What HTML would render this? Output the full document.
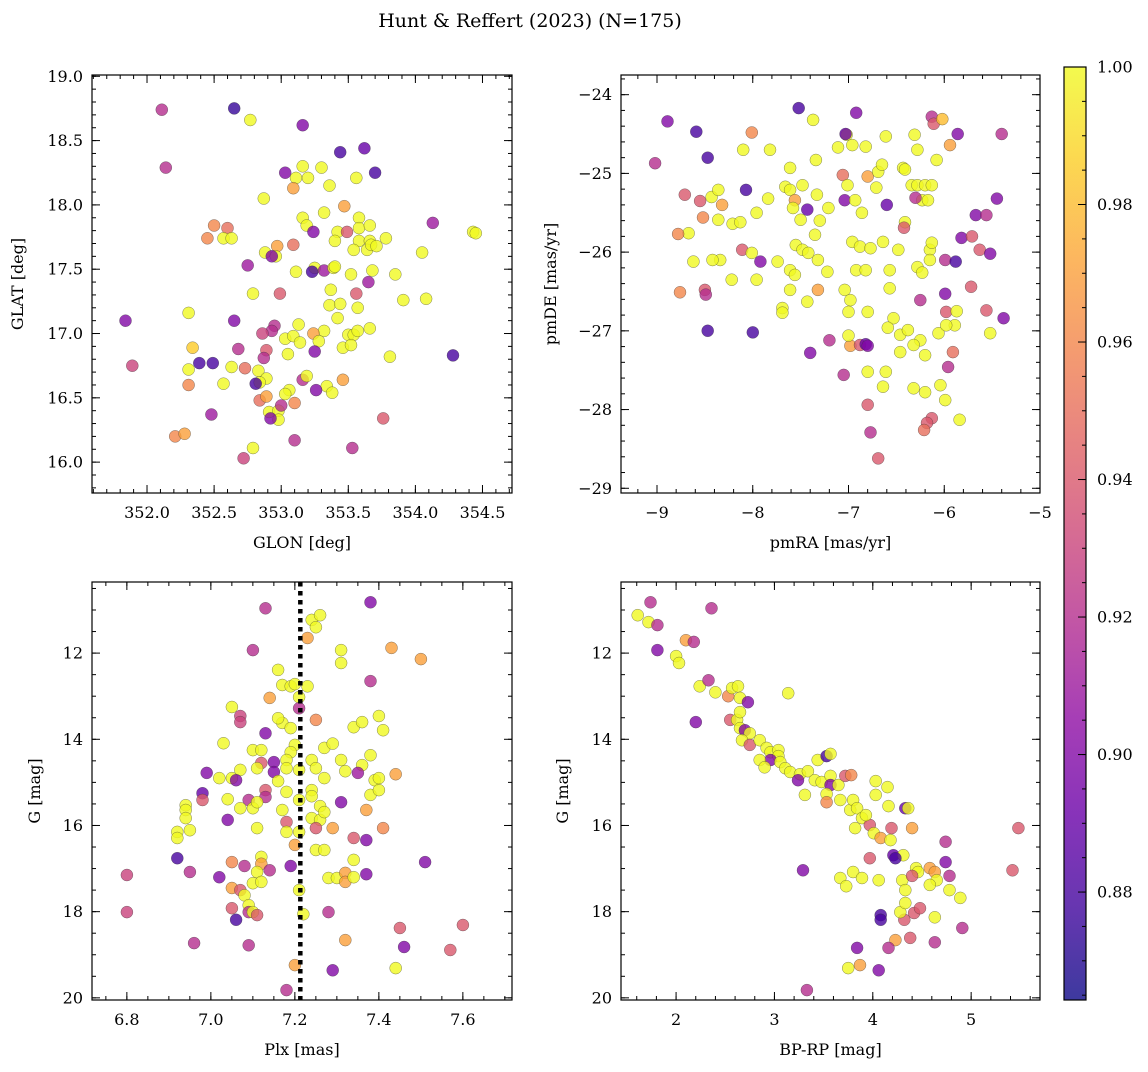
<!DOCTYPE html>
<html><head><meta charset="utf-8"><style>
html,body{margin:0;padding:0;background:#fff}
svg text{font-family:"DejaVu Serif","Liberation Serif",serif;fill:#000}
</style></head><body>
<svg id="fig" width="1148" height="1067" xmlns="http://www.w3.org/2000/svg">
<text x="530" y="27" font-size="19" text-anchor="middle">Hunt &amp; Reffert (2023) (N=175)</text>
</svg>
<script>
// ---- Panel 1: GLON / GLAT ----
const glonX=[352.11,352.14,351.84,351.89,352.65,352.77,353.16,353.44,353.62,353.70,353.03,353.16,353.30,353.11,353.20,353.56,353.36,353.09,352.87,353.47,353.16,353.19,353.32,353.58,353.58,353.66,352.50,352.60,352.45,352.57,352.63,352.97,353.09,353.24,353.42,353.49,353.40,353.58,353.66,353.78,353.54,353.64,353.67,353.71,354.13,354.43,354.45,354.05,352.88,352.96,352.75,352.93,353.25,353.23,353.11,353.32,353.39,353.40,353.52,353.65,353.68,353.85,353.91,354.08,353.37,353.56,352.99,352.79,352.31,352.65,352.95,352.93,353.13,353.36,353.44,353.57,353.66,353.42,353.32,353.24,353.03,353.09,353.14,353.28,353.50,353.54,353.57,352.86,352.34,352.39,352.49,352.68,352.89,352.87,353.05,353.25,353.46,353.52,353.81,354.28,352.31,352.63,352.73,352.83,352.89,352.84,352.81,353.16,353.19,353.34,353.38,353.26,353.06,353.03,353.46,352.31,352.57,352.84,352.89,353.10,352.91,352.98,353.00,352.98,352.92,353.10,352.48,352.21,352.28,352.72,352.79,353.53,353.76];
const glatY=[18.74,18.29,17.10,16.75,18.75,18.66,18.62,18.41,18.44,18.25,18.25,18.30,18.29,18.21,18.21,18.21,18.15,18.13,18.05,17.99,17.90,17.84,17.94,17.90,17.82,17.84,17.84,17.82,17.74,17.74,17.74,17.68,17.69,17.79,17.79,17.79,17.72,17.72,17.72,17.74,17.65,17.65,17.69,17.68,17.86,17.79,17.78,17.63,17.63,17.60,17.53,17.60,17.51,17.48,17.48,17.49,17.51,17.52,17.46,17.40,17.49,17.46,17.26,17.27,17.34,17.31,17.31,17.31,17.16,17.10,17.06,17.02,17.07,17.22,17.23,17.20,17.04,17.12,17.02,17.00,16.96,16.98,16.93,16.94,16.99,16.99,17.02,17.00,16.89,16.77,16.77,16.88,16.87,16.81,16.84,16.86,16.89,16.91,16.82,16.83,16.72,16.74,16.73,16.71,16.65,16.62,16.61,16.64,16.67,16.59,16.54,16.56,16.56,16.53,16.64,16.60,16.61,16.48,16.51,16.46,16.39,16.40,16.44,16.33,16.34,16.17,16.37,16.20,16.22,16.03,16.11,16.11,16.34];
const p1C=[.92,.92,.90,.93,.875,1,.90,.88,.89,.88,.90,1,1,1,1,1,1,.97,1,.97,1,1,1,1,1,1,.96,.95,.96,1,1,.97,.95,.90,1,.94,1,1,1,1,1,1,1,1,.91,1,1,1,1,1,.91,.90,1,.88,1,.91,1,1,1,.91,1,1,1,1,1,.94,.94,1,1,.90,.92,.92,1,1,1,1,1,1,1,.97,1,1,1,1,1,1,1,.93,.985,.88,.88,.92,.94,.92,1,.90,1,1,1,.88,1,1,.95,1,1,1,.88,.92,1,1,1,.90,1,1,.97,.96,1,.95,.97,.96,1,1,.92,1,.90,.92,.91,.96,.97,.93,1,.92,.94];
// ---- Panel 2: pmRA / pmDE ----
const pmraX=[-8.89,-9.02,-8.59,-8.01,-7.52,-7.37,-6.92,-7.02,-7.03,-6.31,-6.13,-6.11,-5.86,-5.40,-8.47,-8.10,-7.82,-7.61,-7.34,-7.11,-6.96,-6.82,-6.61,-6.43,-6.28,-6.08,-5.94,-6.02,-8.71,-8.55,-8.43,-8.36,-8.07,-8.32,-7.84,-7.66,-7.61,-7.56,-7.48,-7.33,-7.21,-7.06,-7.04,-7.01,-6.93,-6.80,-6.71,-6.69,-6.65,-6.60,-6.41,-6.34,-6.28,-6.20,-6.13,-6.23,-6.17,-6.30,-5.45,-8.52,-8.36,-8.21,-8.13,-7.96,-7.58,-7.50,-7.30,-7.43,-6.86,-6.41,-5.67,-5.56,-8.67,-8.78,-8.11,-8.01,-7.92,-7.55,-7.48,-7.42,-7.35,-6.96,-6.88,-6.77,-6.64,-6.48,-6.42,-6.15,-6.13,-6.15,-5.99,-5.88,-5.82,-5.71,-5.63,-5.52,-8.34,-8.42,-7.74,-7.61,-7.56,-7.32,-7.22,-6.92,-6.82,-6.57,-6.28,-6.23,-8.62,-8.76,-8.50,-8.49,-8.22,-7.96,-7.61,-7.32,-7.04,-6.98,-6.57,-6.25,-5.99,-5.72,-7.69,-7.69,-7.43,-7.00,-6.80,-6.53,-5.98,-5.89,-5.87,-5.56,-5.38,-8.47,-8.00,-7.20,-7.40,-6.98,-6.88,-6.82,-7.00,-6.80,-6.59,-6.46,-6.38,-6.25,-6.06,-5.98,-6.20,-6.46,-6.32,-6.61,-5.91,-5.96,-5.52,-6.80,-7.05,-6.64,-6.32,-6.20,-6.04,-5.99,-6.80,-6.13,-6.18,-6.21,-5.84,-6.77,-6.69];
const pmdeY=[-24.34,-24.87,-24.47,-24.48,-24.17,-24.32,-24.23,-24.51,-24.50,-24.51,-24.28,-24.37,-24.50,-24.50,-24.80,-24.70,-24.70,-24.93,-24.83,-24.67,-24.64,-24.66,-24.53,-24.93,-24.70,-24.83,-24.64,-24.31,-25.27,-25.35,-25.30,-25.21,-25.21,-25.40,-25.32,-25.17,-25.21,-25.34,-25.15,-25.27,-25.44,-25.02,-25.34,-25.15,-25.34,-25.04,-25.18,-24.98,-24.89,-25.40,-24.95,-25.15,-25.15,-25.15,-25.15,-25.34,-25.34,-25.31,-25.32,-25.56,-25.59,-25.64,-25.62,-25.50,-25.44,-25.59,-25.60,-25.46,-25.50,-25.62,-25.53,-25.53,-25.76,-25.77,-25.97,-26.01,-26.12,-25.91,-25.97,-26.01,-25.78,-25.87,-25.93,-25.95,-25.87,-25.97,-25.69,-25.97,-25.88,-26.10,-26.10,-26.12,-25.82,-25.80,-25.97,-26.02,-26.10,-26.10,-26.12,-26.23,-26.29,-26.10,-26.25,-26.23,-26.23,-26.23,-26.19,-26.26,-26.12,-26.51,-26.48,-26.54,-26.35,-26.35,-26.48,-26.48,-26.48,-26.61,-26.46,-26.61,-26.53,-26.44,-26.71,-26.77,-26.63,-26.76,-26.76,-26.84,-26.76,-26.93,-26.75,-26.74,-26.84,-27.00,-27.02,-27.12,-27.28,-27.19,-27.18,-27.17,-27.06,-27.19,-26.96,-27.05,-26.99,-27.12,-27.03,-26.93,-27.31,-27.27,-27.18,-27.52,-27.27,-27.46,-27.03,-27.52,-27.56,-27.71,-27.73,-27.78,-27.69,-27.88,-27.94,-28.11,-28.17,-28.26,-28.13,-28.29,-28.62];
const p2C=[.90,.92,.88,.96,.88,1,.90,1,.89,1,.92,.94,.90,.92,.88,1,1,1,1,1,1,1,1,1,1,1,.97,.98,.94,.94,1,1,.88,.97,1,1,1,.97,1,1,1,.95,.90,1,1,.97,1,1,1,.89,1,1,1,1,1,1,1,.92,.90,.96,1,1,1,1,1,1,1,.89,1,1,.90,.92,1,.96,.94,1,.90,1,1,1,1,1,1,1,1,1,.94,1,1,1,.92,.88,.90,.94,.94,.90,1,1,1,1,1,1,1,1,1,1,1,1,1,.96,.94,.92,1,1,1,.97,1,1,1,.92,.90,.94,1,1,1,1,1,1,.94,1,1,.94,.90,.88,.88,.92,.90,.97,.94,.89,1,.90,1,1,1,1,1,1,1,1,1,1,.95,.92,1,1,.92,1,1,1,1,1,.94,.94,.94,.95,1,.92,.94];
// ---- Panel 3: Plx / G ----
const plxX=[7.13,7.38,7.24,7.26,7.25,7.10,7.23,7.31,7.31,7.43,7.50,7.38,7.16,7.17,7.19,7.20,7.23,7.14,7.21,7.05,7.07,7.07,7.17,7.19,7.16,7.21,7.25,7.34,7.36,7.40,7.41,7.13,7.03,7.10,7.12,7.20,7.19,7.27,7.29,7.24,7.18,7.12,7.15,7.15,7.18,7.21,7.25,7.31,7.32,7.36,7.35,7.38,7.07,7.11,7.05,7.02,7.06,7.13,7.16,7.27,7.24,7.24,7.18,7.21,7.26,7.39,7.40,7.44,7.38,7.40,7.31,6.99,6.98,6.98,7.09,7.13,7.04,7.07,7.10,7.11,7.17,7.24,7.26,7.27,7.37,6.94,6.94,6.94,6.95,6.92,6.92,7.04,7.11,7.18,7.18,7.21,7.25,7.29,7.41,7.34,7.37,7.20,7.25,7.27,7.34,7.12,7.12,7.05,7.08,6.92,6.95,6.80,7.14,7.11,7.19,7.51,7.02,7.05,7.07,7.10,7.12,7.21,7.28,7.30,7.32,7.32,7.34,7.37,7.08,7.09,7.05,7.09,7.10,7.11,7.06,6.80,7.22,7.28,7.32,7.45,7.46,7.60,7.57,6.96,7.09,7.20,7.29,7.44,7.18];
const gPlxY=[10.96,10.82,11.23,11.12,11.40,11.93,11.65,11.93,12.23,11.88,12.14,12.65,12.39,12.74,12.77,12.72,12.77,13.04,13.02,13.25,13.46,13.60,13.62,13.74,13.51,13.28,13.55,13.72,13.60,13.46,13.79,13.86,14.09,14.25,14.25,14.13,14.30,14.20,14.10,14.48,14.48,14.55,14.53,14.76,14.67,14.71,14.67,14.48,14.74,14.60,14.78,14.37,14.71,14.67,14.90,14.90,14.95,15.18,14.97,14.90,15.18,15.32,15.22,15.41,15.55,14.95,14.90,14.81,15.29,15.18,15.46,14.78,15.25,15.41,15.41,15.34,15.39,15.60,15.60,15.46,15.64,15.83,15.87,15.69,15.64,15.53,15.64,15.83,16.11,16.15,16.29,15.87,16.06,15.92,16.15,16.15,16.06,16.06,16.06,16.29,16.34,16.45,16.57,16.57,16.80,16.73,16.89,16.85,16.94,16.76,17.08,17.15,17.04,17.08,16.94,16.85,17.20,17.45,17.50,17.34,17.31,17.50,17.22,17.22,17.10,17.31,17.20,17.13,17.62,17.85,17.92,18.01,18.01,18.08,18.19,18.01,18.06,18.01,18.66,18.38,18.82,18.31,18.89,18.73,18.78,19.24,19.36,19.31,19.82];
const p3C=[.92,.90,1,1,1,.92,.97,1,1,.97,.97,.92,1,1,1,1,1,.97,1,1,.93,.93,1,1,1,.92,.96,1,1,1,1,.90,1,1,1,1,1,1,1,1,1,.94,.90,.90,1,1,1,1,1,1,.91,1,1,1,1,1,.90,.94,1,1,1,1,1,1,1,1,1,.97,1,1,.90,.90,.89,.94,.92,.92,1,1,1,1,1,1,1,1,.97,1,1,1,1,1,1,.90,1,.94,1,1,.94,.97,.96,.94,.90,.97,1,1,1,1,.97,.96,.92,.88,.92,.93,.92,1,.90,.90,.90,.97,.94,1,1,1,1,1,.97,.97,1,.90,1,1,.94,.92,1,.94,.88,.93,1,.92,.97,.94,.90,.94,.94,.92,.92,.97,.90,1,.92];
// ---- Panel 4: BP-RP / G ----
const bprpX=[1.61,1.74,1.72,1.81,1.81,2.10,2.18,2.00,2.03,2.24,2.33,2.40,2.36,2.20,2.53,2.57,2.63,2.65,2.73,3.14,2.55,2.62,2.65,2.65,2.70,2.75,2.67,2.75,2.85,2.92,2.96,3.04,3.04,2.96,2.85,2.90,3.06,3.11,3.16,3.26,3.34,3.44,3.53,3.57,3.24,3.31,3.41,3.48,3.57,3.57,3.53,3.53,3.65,3.72,3.78,3.67,3.77,3.80,3.84,3.89,3.82,3.97,3.93,4.01,4.08,4.03,4.15,4.16,4.33,4.36,4.40,4.19,4.18,4.21,4.31,4.23,4.74,4.74,4.58,4.63,4.44,4.65,4.58,4.46,4.30,4.33,4.40,4.78,4.78,4.89,4.91,4.63,4.63,4.38,4.32,4.42,4.48,4.28,4.33,4.08,4.08,4.23,4.16,3.84,3.87,3.75,4.06,3.33,3.29,3.67,3.73,3.80,3.89,4.06,3.97,5.48,5.42,4.03];
const gColY=[11.12,10.82,11.28,11.35,11.93,11.70,11.74,12.07,12.23,12.77,12.63,12.91,10.96,13.60,13.00,12.81,12.77,13.04,13.14,12.93,13.55,13.55,13.37,13.74,13.79,13.86,14.02,14.13,14.02,14.20,14.30,14.25,14.39,14.48,14.48,14.65,14.53,14.67,14.76,14.81,14.74,14.48,14.39,14.34,14.95,15.29,14.95,14.99,14.85,15.06,15.27,15.46,15.06,14.85,14.83,15.41,15.64,15.41,15.60,15.83,16.06,15.99,15.76,16.18,16.29,14.97,15.11,15.55,15.60,15.60,16.06,16.06,16.34,16.69,16.69,16.76,16.38,16.85,16.99,17.08,16.99,17.27,17.38,17.08,17.27,17.50,17.17,17.17,17.50,17.68,18.38,18.13,18.71,18.61,18.19,18.03,17.92,18.01,17.80,18.08,18.19,18.66,18.84,18.84,19.24,19.31,19.36,19.82,17.04,17.22,17.41,17.08,17.22,17.27,16.76,16.06,17.04,15.29];
const p4C=[1,.92,1,.92,.90,.97,.92,1,1,1,.92,1,.92,.90,.96,1,1,1,.90,1,.94,1,1,1,.90,1,1,.94,1,1,1,1,1,.90,1,1,1,1,1,1,1,1,.88,1,.90,1,1,1,1,.90,1,.96,1,.94,.96,1,1,1,1,1,1,.94,1,1,.97,1,1,1,.89,1,.97,.94,1,.89,1,.88,.92,.90,.97,.97,1,1,1,1,1,1,.94,.92,1,1,.92,1,.92,.94,.94,.94,.94,1,1,.88,.88,.97,.92,.90,.97,1,.90,.92,.90,1,1,1,1,1,.94,.94,.94,1];
// ---- colorbar ticks ----
const cbTicks=[0.88,0.90,0.92,0.94,0.96,0.98,1.00];
const CMIN=0.8643, CMAX=1.0;
const x1Ticks=[352.0,352.5,353.0,353.5,354.0,354.5], y1Ticks=[16.0,16.5,17.0,17.5,18.0,18.5,19.0];
const x2Ticks=[-9,-8,-7,-6,-5], y2Ticks=[-29,-28,-27,-26,-25,-24];
const x3Ticks=[6.8,7.0,7.2,7.4,7.6], gTicks=[12,14,16,18,20];
const x4Ticks=[2,3,4,5];
const plxRef=[7.213];

const NS="http://www.w3.org/2000/svg";
const svg=document.getElementById('fig');
function mk(tag,attrs,parent){const e=document.createElementNS(NS,tag);for(const k in attrs)e.setAttribute(k,attrs[k]);(parent||svg).appendChild(e);return e;}
const stops=[[13,8,135],[65,4,157],[106,0,168],[143,13,164],[177,42,144],[204,71,120],[225,100,98],[242,132,75],[252,166,54],[252,206,37],[240,249,33]];
function plasma(t){t=Math.max(0,Math.min(1,t));const f=t*10,i=Math.min(9,Math.floor(f)),r=f-i;const a=stops[i],b=stops[i+1];return `rgb(${Math.round(a[0]+(b[0]-a[0])*r)},${Math.round(a[1]+(b[1]-a[1])*r)},${Math.round(a[2]+(b[2]-a[2])*r)})`;}
function cmap(v){return plasma((v-CMIN)/(CMAX-CMIN));}
function fmt(v,d){const s=v.toFixed(d);return s.replace('-','\u2212');}
function minors(a,b,st){const r=[];for(let v=Math.ceil(a/st-1e-9)*st;v<=b+1e-9;v+=st)r.push(v);return r;}

function panel(cfg){
  const {name,px0,px1,py0,py1,xmin,xmax,ymin,ymax,inv,xt,yt,xd,yd,xminor,yminor,xlabel,ylabel,xs,ys,cs}=cfg;
  const sx=v=>px0+(v-xmin)/(xmax-xmin)*(px1-px0);
  const sy=inv?(v=>py0+(v-ymin)/(ymax-ymin)*(py1-py0)):(v=>py1-(v-ymin)/(ymax-ymin)*(py1-py0));
  const g=mk('g',{});
  
  
  const cp=mk('clipPath',{id:'cp-'+name},g);mk('rect',{x:px0,y:py0,width:px1-px0,height:py1-py0},cp);
  const pts=mk('g',{'clip-path':`url(#cp-${name})`},g);
  for(let i=0;i<xs.length;i++){
    const c=mk('circle',{cx:sx(xs[i]).toFixed(1),cy:sy(ys[i]).toFixed(1),r:6,fill:cmap(cs[i]),'fill-opacity':0.8,stroke:'#333','stroke-width':0.5,'stroke-opacity':0.6},pts);
    
    
  }
  if(cfg.vline){for(const v of cfg.vline){const l=mk('line',{x1:sx(v),x2:sx(v),y1:py0,y2:py1,stroke:'#000','stroke-width':4.5,'stroke-dasharray':'4.5,4.5'},g);
    
    }}
  mk('rect',{x:px0,y:py0,width:px1-px0,height:py1-py0,fill:'none',stroke:'#000','stroke-width':1.2},g);
  const tk=mk('g',{stroke:'#000','stroke-width':1},g);
  for(const v of minors(xmin,xmax,xminor)){const x=sx(v);mk('line',{x1:x,x2:x,y1:py1,y2:py1-4},tk);mk('line',{x1:x,x2:x,y1:py0,y2:py0+4},tk);}
  for(const v of minors(ymin,ymax,yminor)){const y=sy(v);mk('line',{x1:px0,x2:px0+4,y1:y,y2:y},tk);mk('line',{x1:px1,x2:px1-4,y1:y,y2:y},tk);}
  for(const v of xt){const x=sx(v);mk('line',{x1:x,x2:x,y1:py1,y2:py1-8},tk);mk('line',{x1:x,x2:x,y1:py0,y2:py0+8},tk);
    const t=mk('text',{x:x,y:py1+25,'font-size':16,'text-anchor':'middle'},g);t.textContent=fmt(v,xd);
    
    }
  for(const v of yt){const y=sy(v);mk('line',{x1:px0,x2:px0+8,y1:y,y2:y},tk);mk('line',{x1:px1,x2:px1-8,y1:y,y2:y},tk);
    const t=mk('text',{x:px0-9,y:y+5.5,'font-size':16,'text-anchor':'end'},g);t.textContent=fmt(v,yd);
    
    }
  const xl=mk('text',{x:(px0+px1)/2,y:py1+55,'font-size':16,'text-anchor':'middle'},g);xl.textContent=xlabel;
  
  
  const yx=cfg.ylx, yy=(py0+py1)/2;
  const yl=mk('text',{x:yx,y:yy,'font-size':16,'text-anchor':'middle',transform:`rotate(-90 ${yx} ${yy})`},g);yl.textContent=ylabel;
  
  
}
panel({name:'glon-glat-panel',px0:92,px1:512,py0:75,py1:493,xmin:351.59,xmax:354.72,ymin:15.76,ymax:19.01,inv:false,xt:x1Ticks,yt:y1Ticks,xd:1,yd:1,xminor:0.1,yminor:0.1,xlabel:'GLON [deg]',ylabel:'GLAT [deg]',ylx:23,xs:glonX,ys:glatY,cs:p1C});
panel({name:'pm-panel',px0:621,px1:1040,py0:75,py1:493,xmin:-9.376,xmax:-5.0,ymin:-29.06,ymax:-23.75,inv:false,xt:x2Ticks,yt:y2Ticks,xd:0,yd:0,xminor:0.2,yminor:0.2,xlabel:'pmRA [mas/yr]',ylabel:'pmDE [mas/yr]',ylx:556,xs:pmraX,ys:pmdeY,cs:p2C});
panel({name:'plx-g-panel',px0:92,px1:512,py0:582,py1:1000,xmin:6.717,xmax:7.717,ymin:10.35,ymax:20.05,inv:true,xt:x3Ticks,yt:gTicks,xd:1,yd:0,xminor:0.05,yminor:0.5,xlabel:'Plx [mas]',ylabel:'G [mag]',ylx:40,xs:plxX,ys:gPlxY,cs:p3C,vline:plxRef});
panel({name:'cmd-panel',px0:621,px1:1040,py0:582,py1:1000,xmin:1.44,xmax:5.70,ymin:10.35,ymax:20.05,inv:true,xt:x4Ticks,yt:gTicks,xd:0,yd:0,xminor:0.2,yminor:0.5,xlabel:'BP-RP [mag]',ylabel:'G [mag]',ylx:568,xs:bprpX,ys:gColY,cs:p4C});

// colorbar
(function(){
  const x0=1064,x1=1086,y0=67,y1=1000;
  const g=mk('g',{});
  
  
  const defs=mk('defs',{},g);const lg=mk('linearGradient',{id:'cbg',x1:0,y1:1,x2:0,y2:0},defs);
  for(let i=0;i<=20;i++){mk('stop',{offset:(i/20),'stop-color':plasma(i/20)},lg);}
  mk('rect',{x:x0,y:y0,width:x1-x0,height:y1-y0,fill:'url(#cbg)','fill-opacity':0.8},g);
  mk('rect',{x:x0,y:y0,width:x1-x0,height:y1-y0,fill:'none',stroke:'#000','stroke-width':1.2},g);
  const sy=v=>y1-(v-CMIN)/(CMAX-CMIN)*(y1-y0);
  for(const v of minors(CMIN,CMAX,0.005)){const y=sy(v);mk('line',{x1:x1,x2:x1-4,y1:y,y2:y,stroke:'#000'},g);}
  for(const v of cbTicks){const y=sy(v);mk('line',{x1:x1,x2:x1-8,y1:y,y2:y,stroke:'#000'},g);
    const t=mk('text',{x:x1+11,y:y+5.5,'font-size':16},g);t.textContent=v.toFixed(2);
    
    }
})();
</script>
</body></html>
